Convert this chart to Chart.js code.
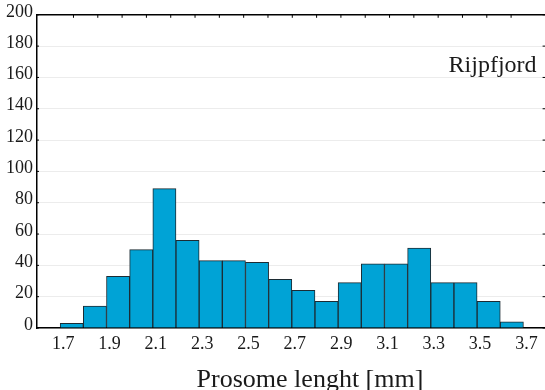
<!DOCTYPE html>
<html>
<head>
<meta charset="utf-8">
<script src="https://cdn.jsdelivr.net/npm/chart.js@4.4.0/dist/chart.umd.min.js"></script>
<style>
  html, body { margin: 0; padding: 0; background: #fff; overflow: hidden; }
  #wrap { position: relative; width: 548px; height: 390px; }
</style>
</head>
<body>
<div id="wrap"><canvas id="histChart"></canvas></div>
<script>
// Histogram data: left edge of each 0.1 mm bin and its count
const binStart = [1.7, 1.8, 1.9, 2.0, 2.1, 2.2, 2.3, 2.4, 2.5, 2.6, 2.7, 2.8, 2.9, 3.0, 3.1, 3.2, 3.3, 3.4, 3.5, 3.6];
const counts = [3, 14, 33, 50, 89, 56, 43, 43, 42, 31, 24, 17, 29, 41, 41, 51, 29, 29, 17, 4];
const binWidth = 0.1;

// Axis ticks
const xTickValues = [1.7, 1.9, 2.1, 2.3, 2.5, 2.7, 2.9, 3.1, 3.3, 3.5, 3.7];
const yTickValues = [0, 20, 40, 60, 80, 100, 120, 140, 160, 180, 200];

const xTitle = 'Prosome lenght [mm]';
const siteLabel = 'Rijpfjord';

const fontFamily = '"Liberation Serif", "DejaVu Serif", serif';
const textColor = '#1a1a1a';

// Inward tick marks + free text (axis title and site name)
const decorPlugin = {
  id: 'decor',
  afterDraw(chart) {
    const ctx = chart.ctx;
    const area = chart.chartArea;
    const top = chart.scales.x2;
    const yScale = chart.scales.y;

    ctx.save();
    ctx.strokeStyle = '#000';
    ctx.lineWidth = 1;
    top.ticks.forEach(t => {
      if (!Number.isInteger(t.value)) return;
      const px = top.getPixelForValue(t.value);
      ctx.beginPath();
      ctx.moveTo(px, area.top);
      ctx.lineTo(px, area.top + 3);
      ctx.stroke();
    });
    yTickValues.forEach(v => {
      const py = yScale.getPixelForValue(v);
      ctx.beginPath();
      ctx.moveTo(area.left, py);
      ctx.lineTo(area.left + 2, py);
      ctx.moveTo(area.right - 4, py);
      ctx.lineTo(area.right, py);
      ctx.stroke();
    });

    ctx.fillStyle = textColor;
    ctx.font = '24px ' + fontFamily;
    ctx.textAlign = 'right';
    ctx.textBaseline = 'alphabetic';
    ctx.fillText(siteLabel, area.right - 10, area.top + 57);

    ctx.font = '26px ' + fontFamily;
    ctx.textAlign = 'center';
    ctx.fillText(xTitle, 310, 387);
    ctx.restore();
  }
};

const histChartEl = document.getElementById('histChart');

new Chart(histChartEl, {
  type: 'bar',
  data: {
    datasets: [
      {
        data: binStart.map((s, i) => ({ x: s + binWidth / 2, y: counts[i] })),
        backgroundColor: '#00a3d6',
        borderColor: '#1c2b33',
        borderWidth: 1,
        borderSkipped: 'start',
        barPercentage: 1,
        categoryPercentage: 1
      }
    ]
  },
  options: {
    responsive: true,
    maintainAspectRatio: false,
    animation: false,
    layout: {
      padding: { top: 13, right: 1.4, left: 0, bottom: 0 }
    },
    plugins: {
      legend: { display: false },
      tooltip: { enabled: false }
    },
    scales: {
      x: {
        type: 'linear',
        position: 'bottom',
        offset: false,
        min: 1.6,
        max: 3.8,
        afterBuildTicks: axis => {
          axis.ticks = xTickValues.map(v => ({ value: v }));
        },
        afterFit: scale => { scale.height = 62; },
        ticks: {
          autoSkip: false,
          maxRotation: 0,
          padding: 5,
          labelOffset: 3,
          color: textColor,
          font: { family: fontFamily, size: 18 },
          callback: v => Number(v).toFixed(1)
        },
        grid: { display: false, drawTicks: false, offset: false },
        border: { display: true, color: '#000', width: 1.5 }
      },
      x2: {
        type: 'linear',
        position: 'top',
        offset: false,
        min: -0.5,
        max: 20.46,
        ticks: { display: false, stepSize: 1 },
        afterFit: scale => { scale.height = 0; },
        grid: { display: false, drawTicks: false },
        border: { display: true, color: '#000', width: 1.5 }
      },
      y: {
        min: 0,
        max: 200,
        afterBuildTicks: axis => {
          axis.ticks = yTickValues.map(v => ({ value: v }));
        },
        afterFit: scale => { scale.width = 37; },
        ticks: {
          padding: 4,
          labelOffset: -3,
          color: textColor,
          font: { family: fontFamily, size: 18 }
        },
        grid: { color: '#ececec', lineWidth: 1, drawTicks: false },
        border: { display: true, color: '#000', width: 1.5 }
      }
    }
  },
  plugins: [decorPlugin]
});
</script>
</body>
</html>
